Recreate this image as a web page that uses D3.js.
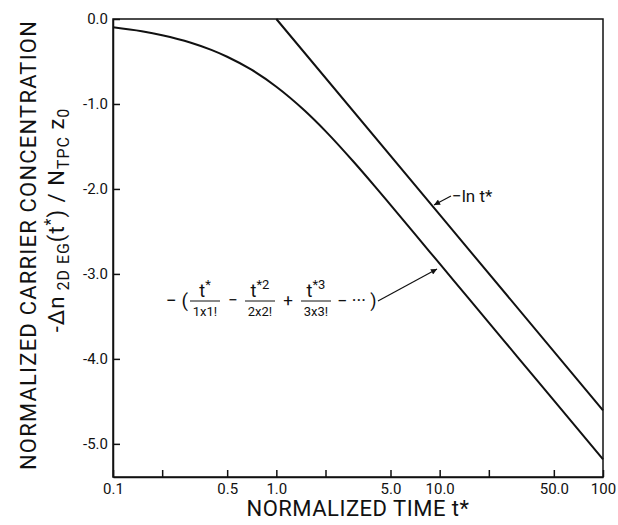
<!DOCTYPE html>
<html><head><meta charset="utf-8">
<script src="https://cdn.jsdelivr.net/npm/d3@7"></script>
<style>body{margin:0;background:#fff}svg{display:block}text{font-family:Roboto,"DejaVu Sans",sans-serif;fill:#111}</style>
</head><body><svg id="c" width="618" height="525"></svg>
<script>
// ---- data ----
const xTicks = [0.1, 0.2, 0.5, 1, 2, 5, 10, 20, 50, 100];
const xTickLabels = ["0.1", "", "0.5", "1.0", "", "5.0", "10.0", "", "50.0", "100"];
const yTicks = [0, -1, -2, -3, -4, -5];
const yTickLabels = ["0.0", "-1.0", "-2.0", "-3.0", "-4.0", "-5.0"];
// series sum curve  -(t/1x1! - t^2/2x2! + t^3/3x3! - ...)
const seriesT = [0.1, 0.15, 0.2, 0.3, 0.4, 0.5, 0.7, 1, 1.5, 2, 3, 4, 5, 7, 10, 15, 20, 30, 50, 100];
const seriesV = [-0.098, -0.145, -0.191, -0.279, -0.363, -0.444, -0.594, -0.797, -1.083, -1.319, -1.689, -1.967, -2.188, -2.523, -2.880, -3.285, -3.573, -3.978, -4.489, -5.182];
// -ln t*
const lnT = [1, 10, 100];
const lnV = [0, -2.303, -4.605];

const svg = d3.select("#c");
const x = d3.scaleLog().domain([0.1, 100]).range([113, 603]);
const y = d3.scaleLinear().domain([0, -5.39]).range([19, 477]);

// frame
svg.append("rect").attr("x", 113).attr("y", 19).attr("width", 490).attr("height", 458)
  .attr("fill", "none").attr("stroke", "#111").attr("stroke-width", 1.5);

const xAxis = d3.axisBottom(x).tickValues(xTicks)
  .tickFormat((d, i) => xTickLabels[i]).tickSize(-7).tickSizeOuter(0).tickPadding(6);
const gx = svg.append("g").attr("transform", "translate(0,477)").call(xAxis);
gx.select(".domain").attr("stroke", "#111").attr("stroke-width", 1.5);
gx.selectAll(".tick line").attr("stroke", "#111").attr("stroke-width", 1.5);
gx.selectAll(".tick text").attr("font-size", 15).attr("fill", "#111");

const yAxis = d3.axisLeft(y).tickValues(yTicks)
  .tickFormat((d, i) => yTickLabels[i]).tickSize(-7).tickSizeOuter(0).tickPadding(5);
const gy = svg.append("g").attr("transform", "translate(113,0)").call(yAxis);
gy.select(".domain").attr("stroke", "#111").attr("stroke-width", 1.5);
gy.selectAll(".tick line").attr("stroke", "#111").attr("stroke-width", 1.5);
gy.selectAll(".tick text").attr("font-size", 15).attr("fill", "#111");

// curves
const line = d3.line().x(d => x(d[0])).y(d => y(d[1])).curve(d3.curveMonotoneX);
svg.append("path").datum(seriesT.map((t, i) => [t, seriesV[i]]))
  .attr("d", line).attr("fill", "none").attr("stroke", "#111").attr("stroke-width", 2);
svg.append("path").datum(lnT.map((t, i) => [t, lnV[i]]))
  .attr("d", d3.line().x(d => x(d[0])).y(d => y(d[1])))
  .attr("fill", "none").attr("stroke", "#111").attr("stroke-width", 2);

// axis titles
svg.append("text").attr("x", 358).attr("y", 516).attr("text-anchor", "middle")
  .attr("font-size", 22).attr("letter-spacing", 0.5).text("NORMALIZED TIME t*");

svg.append("text").attr("transform", "translate(36,245) rotate(-90)")
  .attr("text-anchor", "middle").attr("font-size", 22).attr("letter-spacing", 1.2)
  .text("NORMALIZED CARRIER CONCENTRATION");

const t2 = svg.append("text").attr("transform", "translate(64,220) rotate(-90)")
  .attr("text-anchor", "middle").attr("font-size", 22).attr("letter-spacing", 1);
t2.append("tspan").text("-Δn");
t2.append("tspan").attr("font-size", 16).attr("dy", 5).text(" 2D EG");
t2.append("tspan").attr("dy", -5).text("(t");
t2.append("tspan").attr("font-size", 16).attr("dy", -8).text("*");
t2.append("tspan").attr("dy", 8).text(") / N");
t2.append("tspan").attr("font-size", 16).attr("dy", 5).text("TPC");
t2.append("tspan").attr("dy", -5).text(" z");
t2.append("tspan").attr("font-size", 16).attr("dy", 5).text("0");

// annotations
const defs = svg.append("defs");
defs.append("marker").attr("id", "ah").attr("viewBox", "0 0 10 10").attr("refX", 10).attr("refY", 5)
  .attr("markerWidth", 10).attr("markerHeight", 6).attr("orient", "auto").attr("markerUnits", "userSpaceOnUse")
  .append("path").attr("d", "M0,0 L10,5 L0,10 Z").attr("fill", "#111");

svg.append("text").attr("x", 452).attr("y", 202).attr("font-size", 17).text("−ln t*");
svg.append("line").attr("x1", 451).attr("y1", 196).attr("x2", 434).attr("y2", 205)
  .attr("stroke", "#111").attr("stroke-width", 1.2).attr("marker-end", "url(#ah)");

const fy = 301;
svg.append("text").attr("x", 166).attr("y", fy + 6).attr("font-size", 19).text("− (");
const fracs = [["t", "*", "1x1!", 205], ["t", "*2", "2x2!", 260], ["t", "*3", "3x3!", 316]];
fracs.forEach(f => {
  const n = svg.append("text").attr("x", f[3]).attr("y", fy - 4).attr("text-anchor", "middle").attr("font-size", 18);
  n.append("tspan").text(f[0]);
  n.append("tspan").attr("font-size", 13).attr("dy", -8).text(f[1]);
  svg.append("line").attr("x1", f[3] - 15).attr("x2", f[3] + 15).attr("y1", fy).attr("y2", fy)
    .attr("stroke", "#111").attr("stroke-width", 1);
  svg.append("text").attr("x", f[3]).attr("y", fy + 15).attr("text-anchor", "middle").attr("font-size", 13).text(f[2]);
});
svg.append("text").attr("x", 233).attr("y", fy + 5).attr("text-anchor", "middle").attr("font-size", 17).text("−");
svg.append("text").attr("x", 288).attr("y", fy + 5).attr("text-anchor", "middle").attr("font-size", 17).text("+");
svg.append("text").attr("x", 337).attr("y", fy + 6).attr("font-size", 18).text("− ··· )");
svg.append("line").attr("x1", 378).attr("y1", 301).attr("x2", 437).attr("y2", 269)
  .attr("stroke", "#111").attr("stroke-width", 1.2).attr("marker-end", "url(#ah)");
</script></body></html>
